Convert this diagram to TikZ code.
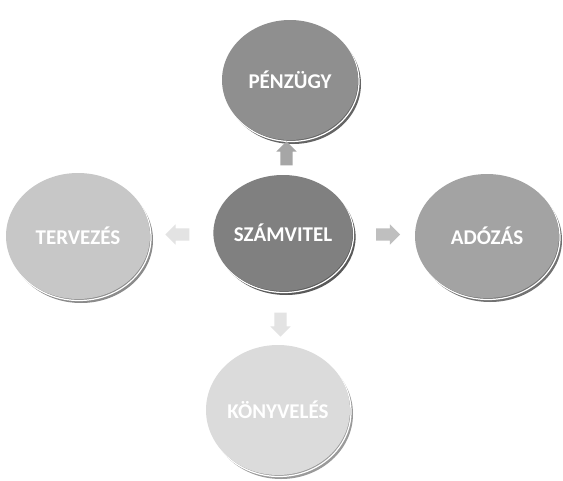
\documentclass[tikz,border=0pt]{standalone}
\usepackage{fontspec}
\setmainfont{Carlito}
\usepackage{tikz}
\usetikzlibrary{calc,shapes.geometric,shapes.arrows}
\definecolor{szamviteltint}{gray}{0.50}
\definecolor{penzugytint}{gray}{0.56}
\definecolor{adozastint}{gray}{0.64}
\definecolor{tervezestint}{gray}{0.78}
\definecolor{konyvelestint}{gray}{0.86}
\tikzset{
  gomb/.style={ellipse, fill=#1, minimum width=136pt, minimum height=120pt, inner sep=0pt,
    text=white, font=\fontsize{21}{24}\selectfont\bfseries,
    preaction={fill=#1!70!black, transform canvas={xshift=3pt,yshift=-4pt}},
    preaction={draw=white, line width=1.2pt, transform canvas={xshift=1pt,yshift=-1.5pt}}},
  nyil/.style={single arrow, fill=#1, draw=none, minimum height=24pt,
    single arrow head extend=4pt, inner sep=6pt}
}
\begin{document}
\begin{tikzpicture}[x=1pt,y=-1pt]
\useasboundingbox[fill=white] (0,0) rectangle (563,480);
% korok
\node[gomb=szamviteltint, minimum width=130pt, minimum height=116pt] (szamvitel) at (283,233) {SZÁMVITEL};
\node[gomb=penzugytint] (penzugy) at (290,80) {PÉNZÜGY};
\node[gomb=tervezestint, minimum width=144pt, minimum height=126pt] (tervezes) at (78,236) {TERVEZÉS};
\node[gomb=adozastint, minimum width=144pt, minimum height=124pt] (adozas) at (487,236) {ADÓZÁS};
\node[gomb=konyvelestint, minimum width=144pt, minimum height=130pt] (konyveles) at (278,410) {KÖNYVELÉS};
% nyilak
\node[nyil=gray!70, shape border rotate=90] (fel) at ($(szamvitel)!0.5!(penzugy)$) {};
\node[nyil=gray!50] (jobbra) at ($(szamvitel)!0.5!(adozas)$) {};
\node[nyil=gray!22, shape border rotate=180] (balra) at ($(szamvitel)!0.5!(tervezes)$) {};
\node[nyil=gray!22, shape border rotate=270] (le) at ($(szamvitel)!0.5!(konyveles)$) {};
\end{tikzpicture}
\end{document}
